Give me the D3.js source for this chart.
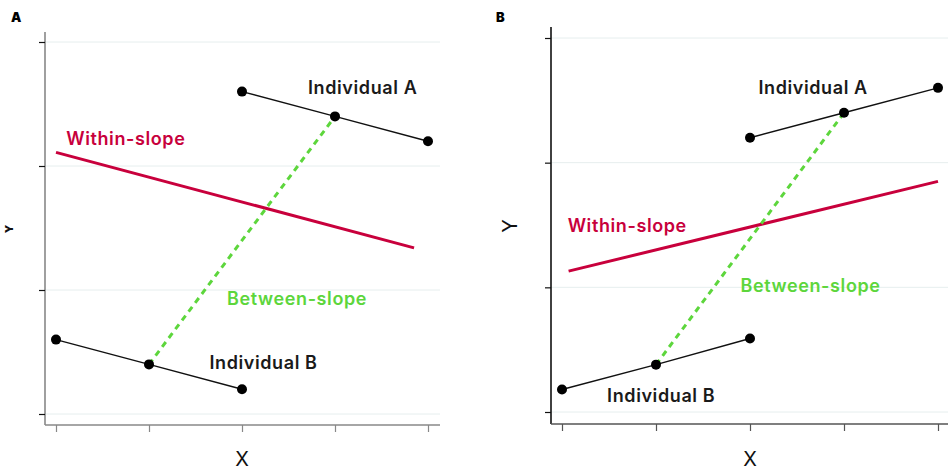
<!DOCTYPE html>
<html>
<head>
<meta charset="utf-8">
<script src="https://cdn.jsdelivr.net/npm/d3@7"></script>
<style>
  body { margin: 0; background: #fff; }
  svg text { font-family: Inter, "Open Sans", sans-serif; }
</style>
</head>
<body>
<div id="chart"></div>
<script>
// x positions of the repeated measures
const xTicks = [1, 2, 3, 4, 5];
const yTicks = [0, 1, 2, 3];

// panel A: negative within, positive between
const indAx_A = [3, 4, 5];
const indAy_A = [2.6, 2.4, 2.2];
const indBx_A = [1, 2, 3];
const indBy_A = [0.6, 0.4, 0.2];
const withinA = [[1, 2.11], [4.85, 1.34]];
const betweenA = [[2, 0.4], [4, 2.4]];
const labelsA = [
  { text: "Individual A", x: 3.71, y: 2.58, color: "#1a1a1a" },
  { text: "Within-slope", x: 1.11, y: 2.17, color: "#c8003c" },
  { text: "Between-slope", x: 2.84, y: 0.88, color: "#5dd63c" },
  { text: "Individual B", x: 2.65, y: 0.36, color: "#1a1a1a" }
];

// panel B: positive within, positive between
const indAx_B = [3, 4, 5];
const indAy_B = [2.2, 2.4, 2.6];
const indBx_B = [1, 2, 3];
const indBy_B = [0.18, 0.38, 0.59];
const withinB = [[1.07, 1.13], [5, 1.85]];
const betweenB = [[2, 0.38], [4, 2.4]];
const labelsB = [
  { text: "Individual A", x: 3.09, y: 2.55, color: "#1a1a1a" },
  { text: "Within-slope", x: 1.06, y: 1.44, color: "#c8003c" },
  { text: "Between-slope", x: 2.90, y: 0.96, color: "#5dd63c" },
  { text: "Individual B", x: 1.48, y: 0.08, color: "#1a1a1a" }
];

const svg = d3.select("#chart").append("svg")
  .attr("width", 948)
  .attr("height", 470);

function drawPanel(p) {
  const g = svg.append("g");
  const x = d3.scaleLinear().domain([1, 5]).range(p.xr);
  const y = d3.scaleLinear().domain([0, 3]).range(p.yr);

  // gridlines
  g.selectAll(".grid").data(yTicks).join("line")
    .attr("x1", p.axX).attr("x2", p.gridEnd)
    .attr("y1", d => y(d)).attr("y2", d => y(d))
    .attr("stroke", "#e6eeee").attr("stroke-width", 1);

  // axes
  const yAxis = g.append("g")
    .attr("transform", `translate(${p.axX},0)`)
    .call(d3.axisLeft(y).tickValues(yTicks).tickFormat("").tickSize(6).tickSizeOuter(0));
  yAxis.select(".domain").attr("d", `M0,${p.axTop}V${p.axY}`)
    .attr("stroke", p.yAxisColor).attr("stroke-width", 1.6);
  yAxis.selectAll(".tick line").attr("stroke", "#111").attr("stroke-width", 1.2);

  const xAxis = g.append("g")
    .attr("transform", `translate(0,${p.axY})`)
    .call(d3.axisBottom(x).tickValues(xTicks).tickFormat("").tickSize(7).tickSizeOuter(0));
  xAxis.select(".domain").attr("d", `M${p.axX},0H${p.axRight}`)
    .attr("stroke", p.xAxisColor).attr("stroke-width", 1.6);
  xAxis.selectAll(".tick line").attr("stroke", p.xAxisColor).attr("stroke-width", 1.2);

  const line = d3.line().x(d => x(d[0])).y(d => y(d[1]));

  // within-slope
  g.append("path").datum(p.within).attr("d", line)
    .attr("fill", "none").attr("stroke", "#c8003c").attr("stroke-width", 3);

  // between-slope
  g.append("path").datum(p.between).attr("d", line)
    .attr("fill", "none").attr("stroke", "#5dd63c").attr("stroke-width", 3)
    .attr("stroke-dasharray", "6,5");

  // individuals
  [[p.ax, p.ay], [p.bx, p.by]].forEach(([xs, ys]) => {
    const pts = xs.map((v, i) => [v, ys[i]]);
    g.append("path").datum(pts).attr("d", line)
      .attr("fill", "none").attr("stroke", "#111").attr("stroke-width", 1.5);
    g.selectAll(null).data(pts).join("circle")
      .attr("cx", d => x(d[0])).attr("cy", d => y(d[1]))
      .attr("r", 5).attr("fill", "#000");
  });

  // labels
  g.selectAll(".lab").data(p.labels).join("text")
    .attr("x", d => x(d.x)).attr("y", d => y(d.y))
    .attr("fill", d => d.color)
    .attr("font-size", 18).attr("font-weight", 600)
    .attr("letter-spacing", 0.6)
    .text(d => d.text);

  // axis titles
  g.append("text")
    .attr("x", x(3)).attr("y", 466)
    .attr("text-anchor", "middle").attr("font-size", 20).attr("fill", "#111")
    .text("X");

  g.append("text")
    .attr("transform", `translate(${p.yLabX},${p.yLabY}) rotate(-90)`)
    .attr("text-anchor", "middle")
    .attr("font-size", p.yLabSize).attr("font-weight", p.yLabWeight).attr("fill", "#111")
    .text("Y");

  g.append("text")
    .attr("x", p.tagX).attr("y", 22)
    .attr("font-family", "'DejaVu Sans', sans-serif")
    .attr("font-size", 13).attr("font-weight", 900).attr("fill", "#000")
    .text(p.tag);
}

drawPanel({
  tag: "A", tagX: 11,
  xr: [56, 428], yr: [414, 42],
  axX: 45, axY: 425, axTop: 32, axRight: 440, gridEnd: 440,
  xAxisColor: "#888", yAxisColor: "#888",
  ax: indAx_A, ay: indAy_A, bx: indBx_A, by: indBy_A,
  within: withinA, between: betweenA, labels: labelsA,
  yLabX: 13, yLabY: 229, yLabSize: 11, yLabWeight: 900
});

drawPanel({
  tag: "B", tagX: 496,
  xr: [562, 938], yr: [412, 38],
  axX: 551, axY: 424, axTop: 27, axRight: 948, gridEnd: 948,
  xAxisColor: "#555", yAxisColor: "#111",
  ax: indAx_B, ay: indAy_B, bx: indBx_B, by: indBy_B,
  within: withinB, between: betweenB, labels: labelsB,
  yLabX: 517, yLabY: 226, yLabSize: 20, yLabWeight: 400
});
</script>
</body>
</html>
